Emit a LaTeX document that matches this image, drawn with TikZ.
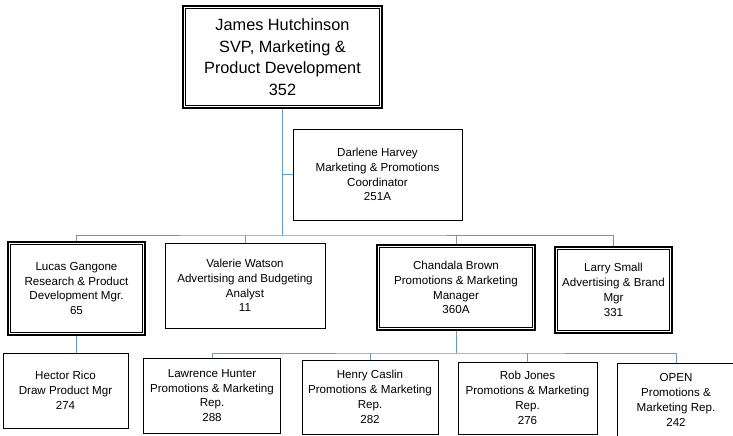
\documentclass[tikz,border=0pt]{standalone}
\usepackage{fontspec}
\setmainfont{Liberation Sans}
\definecolor{connblue}{RGB}{95,155,205}
\tikzset{
  box/.style={draw=black, line width=0.8pt, fill=white, align=center, inner sep=0pt,
    font=\fontsize{11.6}{14.8}\selectfont},
  bigbox/.style={box, line width=1.6pt, font=\fontsize{16.3}{21.5}\selectfont},
  dblbox/.style={box, line width=1.6pt},
  inner/.style={draw=black, line width=0.6pt},
  conn/.style={draw=connblue, line width=0.9pt}
}
\begin{document}
\begin{tikzpicture}[x=1pt,y=-1pt]
\useasboundingbox (0,0) rectangle (733,436);
\clip (0,0) rectangle (733,436);
\fill[white] (0,0) rectangle (733,436);
% coordinates for buses
\coordinate (b1) at (282.5,235);
\coordinate (b2) at (456,353);
% nodes
\node[bigbox, minimum width=199pt, minimum height=102pt] (top) at (282.5,57)
  {James Hutchinson\\SVP, Marketing \&\\Product Development\\352};
\node[box, minimum width=169pt, minimum height=91pt] (darlene) at (377.5,174.5)
  {Darlene Harvey\\Marketing \& Promotions\\Coordinator\\251A};
\node[dblbox, minimum width=137pt, minimum height=93pt] (lucas) at (76.5,288.5)
  {Lucas Gangone\\Research \& Product\\Development Mgr.\\65};
\node[box, minimum width=160pt, minimum height=85pt] (valerie) at (245,285.5)
  {Valerie Watson\\Advertising and Budgeting\\Analyst\\11};
\node[dblbox, minimum width=158pt, minimum height=85pt] (chandala) at (456,287.5)
  {Chandala Brown\\Promotions \& Marketing\\Manager\\360A};
\node[dblbox, minimum width=117pt, minimum height=86pt] (larry) at (613.5,290)
  {Larry Small\\Advertising \& Brand\\Mgr\\331};
\node[box, minimum width=125pt, minimum height=75pt] (hector) at (65.5,390.5)
  {Hector Rico\\Draw Product Mgr\\274};
\node[box, minimum width=137pt, minimum height=75pt] (lawrence) at (212,395.5)
  {Lawrence Hunter\\Promotions \& Marketing\\Rep.\\288};
\node[box, minimum width=136pt, minimum height=74pt] (henry) at (370,397)
  {Henry Caslin\\Promotions \& Marketing\\Rep.\\282};
\node[box, minimum width=139pt, minimum height=72pt] (rob) at (527.5,398)
  {Rob Jones\\Promotions \& Marketing\\Rep.\\276};
\node[box, minimum width=118pt, minimum height=74pt] (open) at (676,400)
  {OPEN\\Promotions \&\\Marketing Rep.\\242};
% inner lines of double boxes
\foreach \n in {top,lucas,chandala,larry}
  \draw[inner] ([shift={(3.2pt,-3.2pt)}]\n.north west) rectangle ([shift={(-3.2pt,3.2pt)}]\n.south east);
% connectors
\draw[conn] (top.south) -- (b1);
\draw[conn] (top.south |- darlene.west) -- (darlene.west);
\draw[conn] (lucas.north) |- (b1) -| (larry.north);
\draw[conn] (valerie.north) -- (valerie.north |- b1);
\draw[conn] (chandala.north) -- (chandala.north |- b1);
\draw[conn] (lucas.south) -- (lucas.south |- hector.north);
\draw[conn] (chandala.south) -- (b2);
\draw[conn] (lawrence.north) |- (b2) -| (open.north);
\draw[conn] (henry.north) -- (henry.north |- b2);
\draw[conn] (rob.north) -- (rob.north |- b2);
\end{tikzpicture}
\end{document}
